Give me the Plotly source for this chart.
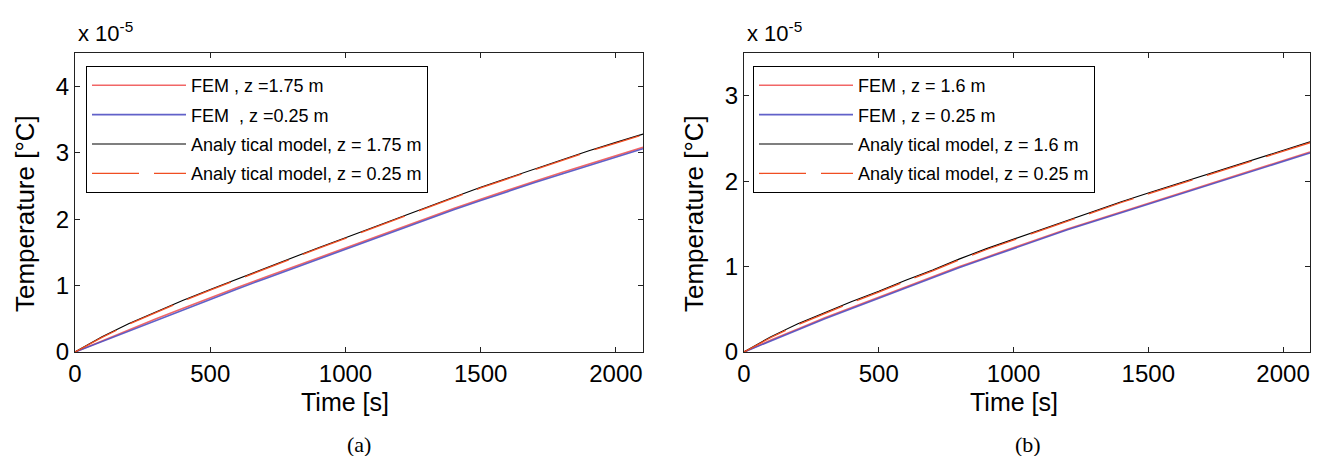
import plotly.graph_objects as go

# ---- data (temperature in units of 1e-5 °C) ----
time_s = [0, 100, 200, 300, 400, 500, 600, 700, 800, 900, 1000,
          1100, 1200, 1300, 1400, 1500, 1600, 1700, 1800, 1900, 2000, 2100]

# panel (a)
a_fem_175 = [0, 0.17, 0.33, 0.50, 0.66, 0.82, 0.97, 1.12, 1.27, 1.42, 1.56,
             1.71, 1.86, 2.01, 2.16, 2.30, 2.44, 2.57, 2.70, 2.83, 2.96, 3.08]
a_fem_025 = [0, 0.16, 0.32, 0.48, 0.64, 0.80, 0.95, 1.10, 1.25, 1.40, 1.54,
             1.69, 1.84, 1.99, 2.14, 2.28, 2.42, 2.55, 2.68, 2.81, 2.94, 3.06]
a_ana_175 = [0, 0.23, 0.43, 0.61, 0.78, 0.94, 1.10, 1.26, 1.42, 1.57, 1.72,
             1.875, 2.03, 2.18, 2.33, 2.48, 2.62, 2.76, 2.90, 3.03, 3.155, 3.28]
a_ana_025 = [0, 0.22, 0.42, 0.60, 0.77, 0.93, 1.09, 1.25, 1.41, 1.56, 1.71,
             1.865, 2.02, 2.17, 2.32, 2.47, 2.61, 2.75, 2.89, 3.02, 3.145, 3.27]

# panel (b)
b_fem_16 = [0, 0.14, 0.27, 0.40, 0.52, 0.64, 0.76, 0.88, 1.00, 1.11, 1.22,
            1.33, 1.44, 1.54, 1.64, 1.74, 1.84, 1.94, 2.04, 2.14, 2.24, 2.34]
b_fem_025 = [0, 0.13, 0.26, 0.39, 0.51, 0.63, 0.75, 0.87, 0.99, 1.10, 1.21,
             1.32, 1.43, 1.53, 1.63, 1.73, 1.83, 1.93, 2.03, 2.13, 2.23, 2.33]
b_ana_16 = [0, 0.18, 0.33, 0.46, 0.59, 0.71, 0.84, 0.96, 1.09, 1.21, 1.32,
            1.43, 1.54, 1.65, 1.76, 1.86, 1.96, 2.06, 2.16, 2.26, 2.36, 2.46]
b_ana_025 = [0, 0.17, 0.32, 0.45, 0.58, 0.70, 0.83, 0.95, 1.08, 1.20, 1.31,
             1.42, 1.53, 1.64, 1.75, 1.85, 1.95, 2.05, 2.15, 2.25, 2.35, 2.45]

names_a = ["FEM , z =1.75 m", "FEM \u00a0, z =0.25 m",
           "Analy tical model, z = 1.75 m", "Analy tical model, z = 0.25 m"]
names_b = ["FEM , z = 1.6 m", "FEM , z = 0.25 m",
           "Analy tical model, z = 1.6 m", "Analy tical model, z = 0.25 m"]

x_ticks = [0, 500, 1000, 1500, 2000]
ya_ticks = [0, 1, 2, 3, 4]
yb_ticks = [0, 1, 2, 3]

# page is 1322x464; the html body adds an 8px margin, so the figure is
# drawn 16px smaller and all page coordinates are shifted by 8px
OFF = 8
W, H = 1322 - 2 * OFF, 464 - 2 * OFF
PL, PR, PT, PB = 75, 1310, 53, 352          # plot extents in page pixels
ML, MT = PL - OFF, PT - OFF
MR, MB = W - (PR - OFF), H - (PB - OFF)
PW, PH = W - ML - MR, H - MT - MB
FONT = "Liberation Sans, Arial, sans-serif"
SERIF = "Liberation Serif, Times New Roman, serif"


def px_x(p):
    return (p - OFF - ML) / PW


def px_y(p):
    return (H - MB - (p - OFF)) / PH


fig = go.Figure()

styles = [
    dict(color="rgba(240,85,85,0.9)", width=1.6, dash="solid"),
    dict(color="rgba(80,80,195,0.9)", width=1.6, dash="solid"),
    dict(color="black", width=1.1, dash="solid"),
    dict(color="#F04E22", width=1.3, dash="47px,15px"),
]

series_a = [a_fem_175, a_fem_025, a_ana_175, a_ana_025]
series_b = [b_fem_16, b_fem_025, b_ana_16, b_ana_025]

for i, (ys, nm, st) in enumerate(zip(series_a, names_a, styles)):
    fig.add_trace(go.Scatter(x=time_s, y=ys, name=nm, mode="lines", line=st,
                             xaxis="x", yaxis="y", legend="legend",
                             legendgroup="a%d" % i))
for i, (ys, nm, st) in enumerate(zip(series_b, names_b, styles)):
    fig.add_trace(go.Scatter(x=time_s, y=ys, name=nm, mode="lines", line=st,
                             xaxis="x2", yaxis="y2", legend="legend2",
                             legendgroup="b%d" % i))

axis_common = dict(showline=True, mirror="ticks", linecolor="#222", linewidth=1.4,
                   ticks="inside", ticklen=5, tickcolor="#222", showgrid=False,
                   zeroline=False, automargin=False,
                   tickfont=dict(family=FONT, size=24, color="black"))

legend_common = dict(xanchor="left", yanchor="top", bgcolor="white",
                     bordercolor="black", borderwidth=1,
                     font=dict(family=FONT, size=18, color="black"),
                     itemwidth=94, tracegroupgap=3)

fig.update_layout(
    width=W, height=H,
    margin=dict(l=ML, r=MR, t=MT, b=MB, autoexpand=False),
    paper_bgcolor="white", plot_bgcolor="white",
    showlegend=True,
    xaxis=dict(domain=[0, (643 - PL) / PW], range=[0, 2100], tickvals=x_ticks,
               anchor="y", **axis_common),
    yaxis=dict(domain=[0, 1], range=[0, 4.5], tickvals=ya_ticks,
               anchor="x", **axis_common),
    xaxis2=dict(domain=[(744 - PL) / PW, 1], range=[0, 2100], tickvals=x_ticks,
                anchor="y2", **axis_common),
    yaxis2=dict(domain=[0, 1], range=[0, 3.5], tickvals=yb_ticks,
                anchor="x2", **axis_common),
    legend=dict(x=px_x(86), y=px_y(66), **legend_common),
    legend2=dict(x=px_x(753), y=px_y(66), **legend_common),
)

ann = []
for x0, lab in [(75, "(a)"), (744, "(b)")]:
    ann.append(dict(text="x 10<sup>-5</sup>", x=px_x(x0 + 1), y=px_y(32), xref="paper", yref="paper",
                    xanchor="left", yanchor="middle", showarrow=False,
                    font=dict(family=FONT, size=22, color="black")))
    ann.append(dict(text="Time [s]", x=px_x(x0 + 270), y=px_y(402), xref="paper", yref="paper",
                    xanchor="center", yanchor="middle", showarrow=False,
                    font=dict(family=FONT, size=25, color="black")))
    ann.append(dict(text="Temperature [°C]", x=px_x(x0 - 50), y=px_y(214), xref="paper", yref="paper",
                    xanchor="center", yanchor="middle", showarrow=False, textangle=-90,
                    font=dict(family=FONT, size=26, color="black")))
    ann.append(dict(text=lab, x=px_x(x0 + 284), y=px_y(444), xref="paper", yref="paper",
                    xanchor="center", yanchor="middle", showarrow=False,
                    font=dict(family=SERIF, size=22, color="black")))
fig.update_layout(annotations=ann)

fig.write_html("out.html")
